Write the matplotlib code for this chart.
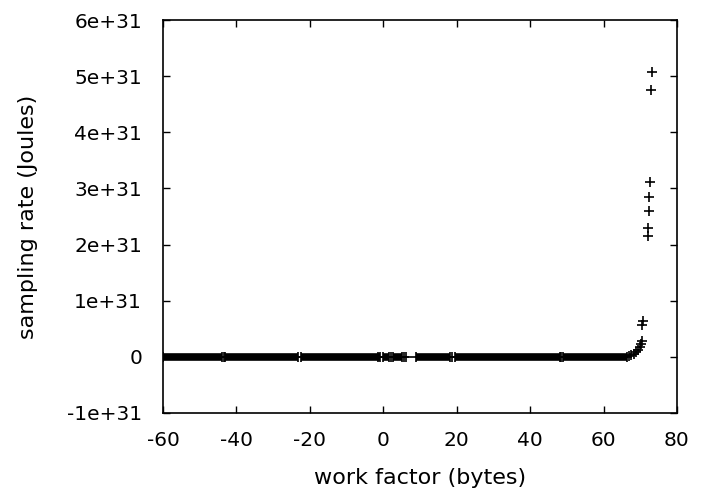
import numpy as np
import matplotlib.pyplot as plt

plt.rcParams['font.family'] = ['DejaVu Sans']

# flat part near zero: runs of dense '+' points (start, end of x)
run_start = [-60.0, -43.0, -22.5, 0.0, 2.6, 9.0, 19.5, 49.0]
run_end = [-43.8, -23.2, -1.0, 1.6, 5.0, 18.2, 48.0, 66.5]
# isolated points in the gaps
gap_x = [-43.4, -1.4, 2.1, 5.6, 6.3, 18.7, 48.5]
gap_y = [0, 0, 0, 0, 0, 0, 0]

# rising tail and outliers
tail_x = [66.8, 67.6, 68.3, 68.9, 69.4, 69.8, 70.1, 70.4,
          70.6, 70.7, 72.2, 72.2, 72.5, 72.5, 72.7, 72.8, 73.1]
tail_y = [0.01e31, 0.03e31, 0.05e31, 0.08e31, 0.12e31, 0.17e31, 0.22e31, 0.28e31,
          0.57e31, 0.64e31, 2.16e31, 2.29e31, 2.60e31, 2.84e31, 3.11e31, 4.76e31, 5.07e31]

x_ticks = [-60, -40, -20, 0, 20, 40, 60, 80]
y_ticks = [-1e31, 0, 1e31, 2e31, 3e31, 4e31, 5e31, 6e31]
y_labels = ['-1e+31', '0', '1e+31', '2e+31', '3e+31', '4e+31', '5e+31', '6e+31']

fig = plt.figure(figsize=(7.10, 4.93), dpi=100)
ax = fig.add_axes([0.2296, 0.1623, 0.7239, 0.7971])

ax.hlines([0] * len(run_start), run_start, run_end, color='black', linewidth=5.5)
ax.plot(run_start + run_end, [0] * (2 * len(run_start)), '+', color='black',
        markersize=7, markeredgewidth=1.2)
ax.plot(gap_x, gap_y, '+', color='black', markersize=7, markeredgewidth=1.2)
ax.plot(tail_x, tail_y, '+', color='black', markersize=7, markeredgewidth=1.2)

ax.set_xlim(-60, 80)
ax.set_ylim(-1e31, 6e31)
ax.set_xticks(x_ticks)
ax.set_xticklabels([str(t) for t in x_ticks])
ax.set_yticks(y_ticks)
ax.set_yticklabels(y_labels)
ax.tick_params(direction='in', length=5, width=1, top=True, right=True,
               labelsize=14.5, colors='black')
ax.tick_params(axis='x', pad=13)
ax.tick_params(axis='y', pad=15)
for s in ax.spines.values():
    s.set_linewidth(1.2)

ax.set_xlabel('work factor (bytes)', fontsize=16)
ax.set_ylabel('sampling rate (Joules)', fontsize=16)
ax.xaxis.set_label_coords(0.5, -0.14)
ax.yaxis.set_label_coords(-0.243, 0.5)

fig.savefig('out.png', dpi=100)
